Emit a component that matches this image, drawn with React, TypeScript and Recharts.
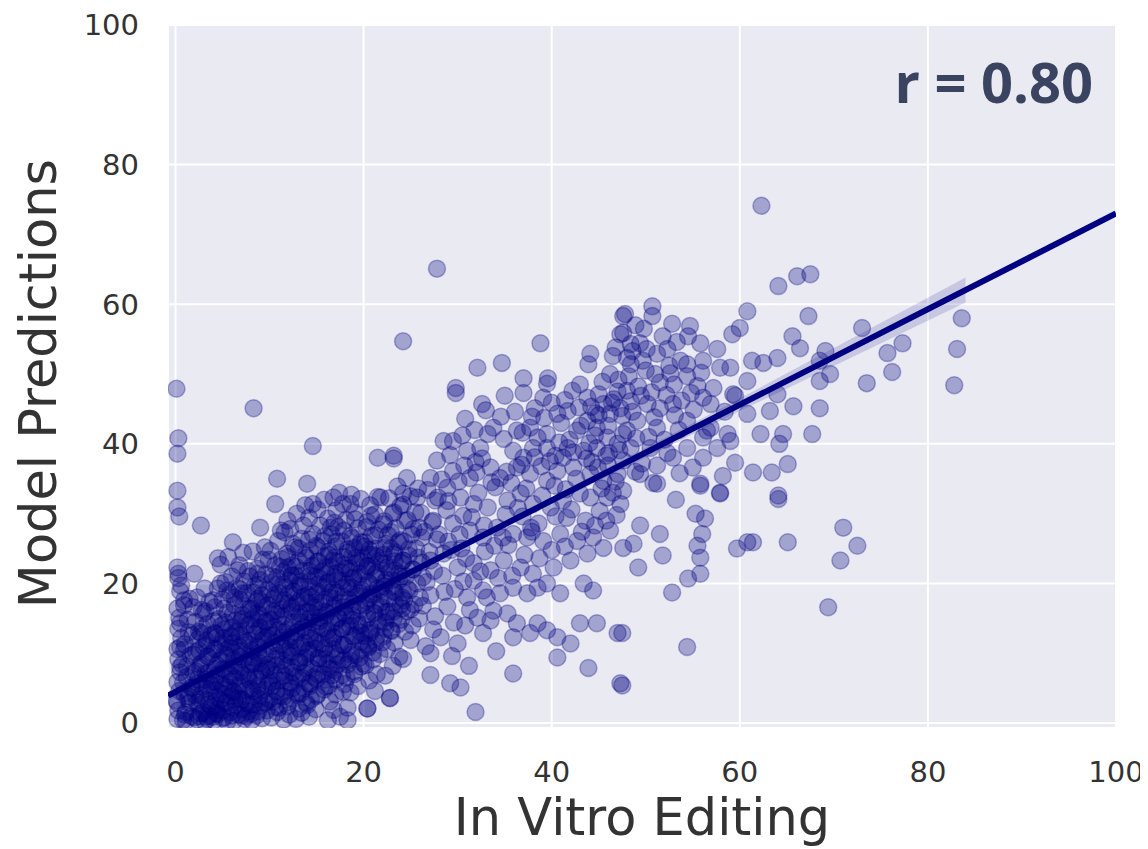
import {
  Area,
  CartesianGrid,
  ComposedChart,
  Label,
  Line,
  Scatter,
  XAxis,
  YAxis,
} from "recharts";

const NAVY = "#000080";

const xTicks = [0, 20, 40, 60, 80, 100];
const yTicks = [0, 20, 40, 60, 80, 100];

// guides at x = 0
const edgeColumn = [
  [0.2, 0.6], [0.3, 1.8], [0.1, 3.2], [0.4, 4.6], [0.2, 5.9], [0.5, 7.3], [0.3, 9.1],
  [0.2, 10.6], [0.6, 12.2], [0.3, 13.5], [0.4, 15.1], [0.2, 16.4], [0.5, 18.9], [0.3, 20.8],
  [0.2, 22.3], [0.3, 21.4], [0.4, 29.6], [0.2, 30.9], [0.2, 33.3], [0.2, 38.6], [0.3, 40.8],
  [0.1, 47.9], [0.5, 8.0], [0.5, 10.9], [0.5, 14.3], [0.2, 2.9],
];

const lowCluster = [
  [0.8, 0.4], [1.1, 1.6], [1.5, 2.9], [0.9, 4.2], [1.7, 5.1], [1.2, 6.6], [0.7, 8.4], [1.6, 9.7],
  [1.0, 11.3], [1.8, 12.6], [1.3, 14.8], [0.9, 16.9], [1.7, 1.0], [1.4, 3.8], [1.9, 7.2],
  [1.1, 0.3], [1.5, 17.8], [0.6, 19.7], [0.9, 17.6], [1.9, 16.6], [3.0, 15.7], [2.7, 12.9],
  [2.3, 0.5], [2.7, 1.4], [3.1, 0.2], [3.6, 1.1], [2.5, 2.6], [3.3, 3.3], [2.1, 4.0], [2.9, 5.2],
  [3.7, 4.6], [2.4, 6.3], [3.2, 7.1], [3.9, 6.0], [2.6, 8.4], [3.5, 9.5], [2.2, 10.2], [3.0, 11.0],
  [3.8, 12.6], [2.5, 13.1], [3.4, 14.2], [2.8, 16.2], [3.6, 17.4], [2.3, 18.0], [3.1, 19.3],
  [2.0, 21.4], [3.3, 0.9], [3.8, 2.3],
  [4.1, 0.4], [4.5, 1.3], [5.0, 0.7], [5.5, 0.2], [5.8, 1.6], [4.3, 2.4], [4.8, 3.3], [5.3, 2.8],
  [5.9, 3.9], [4.2, 4.8], [4.9, 5.6], [5.6, 5.1], [4.4, 6.9], [5.1, 7.8], [5.8, 6.8], [4.6, 8.9],
  [5.4, 9.7], [4.1, 10.6], [4.9, 11.4], [5.7, 10.8], [4.3, 12.8], [5.2, 13.4], [5.9, 12.5],
  [4.6, 14.9], [5.5, 15.8], [4.2, 16.6], [5.0, 17.7], [5.8, 18.5], [4.5, 19.3], [5.3, 20.2],
  [4.8, 22.7], [5.6, 23.8], [4.4, 1.9], [5.2, 4.1], [4.0, 17.6], [5.5, 19.0], [7.2, 18.6],
  [6.2, 0.3], [6.7, 1.2], [7.3, 0.6], [7.8, 1.7], [6.4, 2.6], [7.0, 3.4], [7.6, 2.9], [6.1, 4.5],
  [6.8, 5.3], [7.5, 4.7], [6.3, 6.4], [6.9, 7.3], [7.7, 6.6], [6.5, 8.2], [7.2, 9.1], [7.9, 8.4],
  [6.2, 10.1], [6.8, 10.9], [7.4, 11.6], [6.0, 12.3], [6.7, 13.2], [7.5, 13.9], [6.4, 14.7],
  [7.1, 15.5], [7.8, 16.3], [6.3, 16.9], [6.9, 17.7], [7.6, 18.6], [6.5, 19.4], [7.3, 20.3],
  [6.0, 21.0], [7.7, 21.8], [6.8, 22.6], [7.2, 24.4], [6.1, 25.9], [7.5, 1.0], [6.6, 3.6],
  [8.1, 0.4], [8.6, 1.1], [9.2, 0.7], [9.7, 1.8], [8.3, 2.7], [8.9, 3.5], [9.5, 2.9], [8.2, 4.6],
  [8.8, 5.4], [9.4, 4.8], [9.9, 5.9], [8.5, 6.6], [9.1, 7.4], [9.7, 7.9], [8.3, 8.5], [8.9, 9.3],
  [9.5, 9.8], [8.1, 10.4], [8.7, 11.2], [9.3, 11.9], [9.9, 12.6], [8.4, 12.8], [9.0, 13.7],
  [9.6, 14.5], [8.2, 14.9], [8.8, 15.8], [9.4, 16.6], [8.6, 17.4], [9.2, 18.3], [9.8, 19.1],
  [8.4, 19.6], [9.0, 20.5], [9.6, 21.3], [8.7, 22.1], [9.3, 23.4], [8.2, 24.6], [9.5, 25.2],
];

const coreCluster = [
  [10.2, 0.8], [10.8, 1.6], [11.5, 0.5], [11.9, 2.4], [10.4, 3.1], [11.1, 3.9], [11.7, 4.6],
  [10.3, 5.3], [10.9, 6.1], [11.6, 6.8], [10.1, 7.6], [10.7, 8.3], [11.4, 9.0], [11.9, 9.8],
  [10.5, 10.4], [11.2, 11.2], [11.8, 11.9], [10.3, 12.5], [10.9, 13.3], [11.5, 14.1], [10.1, 14.8],
  [10.7, 15.6], [11.3, 16.3], [11.9, 17.1], [10.4, 17.8], [11.0, 18.6], [11.7, 19.4], [10.2, 20.1],
  [10.8, 20.9], [11.5, 21.7], [10.6, 22.6], [11.3, 23.5], [11.9, 24.3], [10.9, 26.1], [11.6, 27.3],
  [12.1, 1.2], [12.8, 0.6], [13.4, 1.5], [13.9, 2.9], [12.3, 3.6], [13.0, 4.3], [13.7, 5.0],
  [12.2, 5.8], [12.9, 6.5], [13.6, 7.2], [12.4, 8.0], [13.1, 8.7], [13.8, 9.4], [12.3, 10.1],
  [13.0, 10.8], [13.7, 11.5], [12.2, 12.3], [12.9, 13.0], [13.6, 13.7], [12.5, 14.5], [13.2, 15.2],
  [13.9, 15.9], [12.3, 16.7], [13.0, 17.4], [13.7, 18.1], [12.6, 18.9], [13.3, 19.6], [12.1, 20.4],
  [12.8, 21.1], [13.5, 21.8], [12.4, 22.6], [13.1, 23.3], [13.8, 24.0], [12.7, 25.2], [13.4, 26.4],
  [12.2, 27.8], [13.6, 28.3], [12.9, 30.0], [13.8, 31.2], [13.1, 2.1],
  [14.2, 0.9], [14.9, 2.0], [14.4, 3.4], [15.1, 4.1], [15.8, 4.8], [14.3, 5.6], [15.0, 6.3],
  [15.7, 7.0], [14.5, 7.8], [15.2, 8.5], [15.9, 9.2], [14.1, 10.0], [14.8, 10.7], [15.5, 11.4],
  [14.3, 12.2], [15.0, 12.9], [15.7, 13.6], [14.6, 14.4], [15.3, 15.1], [14.1, 15.9], [14.8, 16.6],
  [15.5, 17.3], [14.4, 18.1], [15.1, 18.8], [15.8, 19.5], [14.2, 20.3], [14.9, 21.0], [15.6, 21.7],
  [14.5, 22.5], [15.2, 23.2], [15.9, 23.9], [14.3, 24.7], [15.0, 25.4], [15.7, 26.1], [14.6, 27.1],
  [15.4, 28.3], [14.2, 29.4], [15.1, 30.6], [15.8, 32.0],
  [16.2, 0.4], [17.5, 0.9], [16.4, 3.1], [17.8, 4.5], [16.3, 5.4], [17.0, 6.2], [17.7, 6.9],
  [16.5, 7.7], [17.2, 8.4], [17.9, 9.1], [16.1, 9.9], [16.8, 10.6], [17.5, 11.3], [16.3, 12.1],
  [17.0, 12.8], [17.7, 13.5], [16.6, 14.3], [17.3, 15.0], [16.1, 15.8], [16.8, 16.5], [17.5, 17.2],
  [16.4, 18.0], [17.1, 18.7], [17.8, 19.4], [16.2, 20.2], [16.9, 20.9], [17.6, 21.6], [16.5, 22.4],
  [17.2, 23.1], [17.9, 23.8], [16.3, 24.6], [17.0, 25.3], [17.7, 26.0], [16.6, 27.0], [17.3, 28.1],
  [16.2, 29.3], [17.1, 30.5], [17.8, 31.4], [17.4, 33.0],
  [18.3, 2.2], [18.6, 4.4], [19.4, 5.3], [18.2, 6.5], [19.0, 7.4], [19.7, 8.1], [18.5, 9.0],
  [19.2, 9.8], [19.9, 10.6], [18.3, 11.5], [19.0, 12.3], [19.7, 13.0], [18.6, 13.9], [19.3, 14.6],
  [18.1, 15.4], [18.8, 16.2], [19.5, 16.9], [18.4, 17.7], [19.1, 18.4], [19.8, 19.1], [18.2, 19.9],
  [18.9, 20.7], [19.6, 21.4], [18.5, 22.2], [19.2, 22.9], [19.9, 23.6], [18.3, 24.4], [19.0, 25.1],
  [19.7, 25.9], [18.6, 26.8], [19.4, 27.9], [18.1, 29.1], [19.0, 30.2], [18.7, 32.7],
];

// second layer through the densest part of the cloud
const coreFill = [
  [1.0, 1.2], [1.3, 3.5], [0.8, 5.8], [1.2, 8.1], [0.9, 10.5], [1.4, 13.0],
  [2.0, 0.8], [2.3, 2.9], [1.8, 5.0], [2.2, 7.4], [1.9, 9.8], [2.4, 12.0], [2.1, 14.5],
  [3.0, 1.6], [2.7, 4.0], [3.2, 6.2], [2.8, 8.6], [3.3, 11.2], [2.9, 13.6], [3.2, 16.0],
  [4.0, 0.9], [4.3, 3.1], [3.8, 5.4], [4.2, 7.7], [3.9, 10.0], [4.4, 12.3], [4.1, 14.6],
  [5.0, 1.8], [4.7, 4.3], [5.2, 6.5], [4.8, 9.0], [5.3, 11.5], [4.9, 14.0], [5.2, 16.4],
  [6.0, 1.1], [6.3, 3.4], [5.8, 5.9], [6.2, 8.3], [5.9, 10.7], [6.4, 13.1], [6.1, 15.6], [6.3, 18.0],
  [7.0, 2.0], [6.7, 4.5], [7.2, 6.9], [6.8, 9.5], [7.3, 11.9], [6.9, 14.4], [7.2, 16.8], [6.8, 19.2],
  [8.0, 1.3], [8.3, 3.8], [7.8, 6.2], [8.2, 8.8], [7.9, 11.3], [8.4, 13.8], [8.1, 16.2], [8.3, 18.7], [7.9, 21.0],
  [9.0, 2.5], [8.7, 5.0], [9.2, 7.5], [8.8, 10.0], [9.3, 12.4], [8.9, 14.9], [9.2, 17.3], [8.8, 19.8],
  [10.0, 3.4], [10.3, 5.9], [9.8, 8.4], [10.2, 11.0], [9.9, 13.5], [10.4, 16.0], [10.1, 18.5], [10.3, 21.0], [9.9, 23.4],
  [11.0, 2.2], [10.7, 4.7], [11.2, 7.2], [10.8, 9.7], [11.3, 12.3], [10.9, 14.8], [11.2, 17.4], [10.8, 19.9], [11.1, 22.4],
  [12.0, 3.0], [12.3, 5.6], [11.8, 8.2], [12.2, 10.8], [11.9, 13.4], [12.4, 16.0], [12.1, 18.6], [12.3, 21.2], [11.9, 23.8],
  [13.0, 4.0], [12.7, 6.7], [13.2, 9.3], [12.8, 11.9], [13.3, 14.5], [12.9, 17.1], [13.2, 19.8], [12.8, 22.4], [13.1, 25.0],
  [14.0, 2.6], [14.3, 5.3], [13.8, 7.9], [14.2, 10.5], [13.9, 13.2], [14.4, 15.8], [14.1, 18.4], [14.3, 21.1], [13.9, 23.7], [14.2, 26.3],
  [15.0, 3.9], [14.7, 6.6], [15.2, 9.3], [14.8, 11.9], [15.3, 14.6], [14.9, 17.3], [15.2, 19.9], [14.8, 22.6], [15.1, 25.2],
  [16.0, 5.2], [16.3, 7.9], [15.8, 10.6], [16.2, 13.3], [15.9, 16.0], [16.4, 18.7], [16.1, 21.4], [16.3, 24.1], [15.9, 26.8],
  [17.0, 4.1], [16.7, 6.9], [17.2, 9.6], [16.8, 12.3], [17.3, 15.1], [16.9, 17.8], [17.2, 20.5], [16.8, 23.3], [17.1, 26.0], [16.9, 28.7],
  [18.0, 5.6], [18.3, 8.4], [17.8, 11.1], [18.2, 13.9], [17.9, 16.6], [18.4, 19.4], [18.1, 22.1], [18.3, 24.9], [17.9, 27.6],
  [19.0, 7.0], [18.7, 9.8], [19.2, 12.6], [18.8, 15.4], [19.3, 18.2], [18.9, 20.9], [19.2, 23.7], [18.8, 26.5], [19.1, 29.2],
  [20.0, 8.5], [20.3, 11.3], [19.8, 14.1], [20.2, 16.9], [19.9, 19.7], [20.4, 22.5], [20.1, 25.3], [20.3, 28.1],
  [21.0, 10.1], [20.7, 12.9], [21.2, 15.7], [20.8, 18.5], [21.3, 21.3], [20.9, 24.1], [21.2, 26.9], [20.8, 29.7],
  [22.0, 11.6], [22.3, 14.4], [21.8, 17.3], [22.2, 20.1], [21.9, 22.9], [22.4, 25.7], [22.1, 28.5],
  [23.0, 13.2], [22.7, 16.0], [23.2, 18.9], [22.8, 21.7], [23.3, 24.5], [22.9, 27.4], [23.2, 30.2],
  [24.0, 14.8], [24.3, 17.6], [23.8, 20.5], [24.2, 23.3], [23.9, 26.2], [24.4, 29.0],
  [25.0, 16.3], [24.7, 19.2], [25.2, 22.0], [24.8, 24.9], [25.3, 27.8],
  [26.0, 18.0], [26.3, 20.9], [25.8, 23.7], [26.2, 26.6],
];

// third layer hugging the fitted line where the cloud is darkest
const coreDense = [
  [2.5, 1.0], [2.6, 3.4], [2.4, 5.7], [2.6, 8.0], [2.5, 10.4],
  [3.4, 0.6], [3.5, 2.7], [3.3, 4.9], [3.5, 7.2], [3.4, 9.6], [3.3, 11.8],
  [4.3, 1.4], [4.4, 3.7], [4.2, 5.9], [4.4, 8.3], [4.3, 10.6], [4.2, 12.9],
  [5.2, 0.8], [5.3, 3.0], [5.1, 5.3], [5.3, 7.6], [5.2, 9.9], [5.1, 12.2], [5.3, 14.4],
  [6.1, 2.2], [6.2, 4.5], [6.0, 6.8], [6.2, 9.1], [6.1, 11.4], [6.0, 13.7],
  [7.0, 1.1], [7.1, 3.4], [6.9, 5.7], [7.1, 8.0], [7.0, 10.3], [6.9, 12.6], [7.1, 14.9],
  [7.9, 2.6], [8.0, 4.9], [7.8, 7.2], [8.0, 9.5], [7.9, 11.8], [7.8, 14.1], [8.0, 16.4],
  [8.8, 1.7], [8.9, 4.0], [8.7, 6.3], [8.9, 8.6], [8.8, 10.9], [8.7, 13.2], [8.9, 15.5], [8.8, 17.8],
  [9.7, 3.1], [9.8, 5.4], [9.6, 7.7], [9.8, 10.0], [9.7, 12.3], [9.6, 14.6], [9.8, 16.9],
  [10.6, 2.3], [10.7, 4.6], [10.5, 6.9], [10.7, 9.2], [10.6, 11.5], [10.5, 13.8], [10.7, 16.1], [10.6, 18.4],
  [11.5, 3.8], [11.6, 6.1], [11.4, 8.4], [11.6, 10.7], [11.5, 13.0], [11.4, 15.3], [11.6, 17.6], [11.5, 19.9],
  [12.4, 5.0], [12.5, 7.3], [12.3, 9.6], [12.5, 11.9], [12.4, 14.2], [12.3, 16.5], [12.5, 18.8], [12.4, 21.1],
  [13.3, 4.2], [13.4, 6.5], [13.2, 8.8], [13.4, 11.1], [13.3, 13.4], [13.2, 15.7], [13.4, 18.0], [13.3, 20.3],
  [14.2, 5.7], [14.3, 8.0], [14.1, 10.3], [14.3, 12.6], [14.2, 14.9], [14.1, 17.2], [14.3, 19.5], [14.2, 21.8],
  [15.1, 7.0], [15.2, 9.3], [15.0, 11.6], [15.2, 13.9], [15.1, 16.2], [15.0, 18.5], [15.2, 20.8], [15.1, 23.1],
  [16.0, 6.2], [16.1, 8.5], [15.9, 10.8], [16.1, 13.1], [16.0, 15.4], [15.9, 17.7], [16.1, 20.0], [16.0, 22.3],
  [16.9, 7.6], [17.0, 9.9], [16.8, 12.2], [17.0, 14.5], [16.9, 16.8], [16.8, 19.1], [17.0, 21.4], [16.9, 23.7],
  [17.8, 8.9], [17.9, 11.2], [17.7, 13.5], [17.9, 15.8], [17.8, 18.1], [17.7, 20.4], [17.9, 22.7],
  [18.7, 10.2], [18.8, 12.5], [18.6, 14.8], [18.8, 17.1], [18.7, 19.4], [18.6, 21.7], [18.8, 24.0],
  [19.6, 9.4], [19.7, 11.7], [19.5, 14.0], [19.7, 16.3], [19.6, 18.6], [19.5, 20.9], [19.7, 23.2], [19.6, 25.5],
  [20.5, 11.0], [20.6, 13.3], [20.4, 15.6], [20.6, 17.9], [20.5, 20.2], [20.4, 22.5], [20.6, 24.8],
  [21.4, 12.4], [21.5, 14.7], [21.3, 17.0], [21.5, 19.3], [21.4, 21.6], [21.3, 23.9],
  [22.3, 13.6], [22.4, 15.9], [22.2, 18.2], [22.4, 20.5], [22.3, 22.8], [22.2, 25.1],
  [23.2, 15.0], [23.3, 17.3], [23.1, 19.6], [23.3, 21.9], [23.2, 24.2],
  [24.1, 16.4], [24.2, 18.7], [24.0, 21.0], [24.2, 23.3],
];

const bandCluster = [
  [20.4, 2.1], [21.2, 4.6], [20.6, 6.1], [21.4, 7.0], [20.2, 8.3], [21.0, 9.1], [21.7, 9.9],
  [20.5, 10.8], [21.3, 11.6], [20.1, 12.5], [20.8, 13.3], [21.6, 14.1], [20.4, 15.0], [21.1, 15.8],
  [21.9, 16.6], [20.3, 17.5], [21.0, 18.3], [21.8, 19.1], [20.6, 20.0], [21.4, 20.8], [20.2, 21.7],
  [20.9, 22.5], [21.7, 23.3], [20.5, 24.2], [21.3, 25.0], [20.1, 25.9], [20.8, 26.8], [21.6, 27.7],
  [20.4, 28.8], [21.2, 29.9], [20.7, 31.2], [21.5, 32.4],
  [22.8, 3.6], [22.3, 6.8], [23.1, 8.2], [23.8, 9.5], [22.5, 10.6], [23.3, 11.5], [22.1, 12.4],
  [22.9, 13.3], [23.7, 14.2], [22.4, 15.1], [23.2, 16.0], [23.9, 16.9], [22.6, 17.8], [23.4, 18.7],
  [22.2, 19.6], [23.0, 20.5], [23.8, 21.4], [22.5, 22.3], [23.3, 23.2], [22.1, 24.1], [22.9, 25.0],
  [23.7, 25.9], [22.6, 26.9], [23.4, 27.9], [22.2, 28.9], [23.1, 30.0], [23.9, 31.1], [22.7, 32.2],
  [23.6, 33.9],
  [24.2, 9.2], [25.0, 11.9], [24.4, 13.1], [25.2, 14.0], [25.9, 15.0], [24.6, 16.0], [25.4, 17.0],
  [24.1, 18.0], [24.9, 19.0], [25.7, 20.0], [24.5, 21.0], [25.3, 22.0], [24.0, 23.0], [24.8, 24.0],
  [25.6, 25.0], [24.3, 26.0], [25.1, 27.0], [25.9, 28.0], [24.7, 29.1], [25.5, 30.2], [24.2, 31.3],
  [25.0, 32.5], [25.8, 33.6], [24.6, 35.1],
  [26.3, 16.8], [27.1, 18.3], [26.7, 20.2], [27.5, 21.8], [26.2, 23.0], [27.0, 24.5], [27.8, 26.3],
  [26.5, 27.4], [27.3, 28.8], [26.1, 30.1], [27.6, 31.9], [26.8, 33.4], [27.4, 13.4], [26.6, 11.0],
];

const sparseLow = [
  [10.8, 35.0], [14.0, 34.3], [10.6, 31.4], [14.6, 31.4], [2.7, 28.3], [9.0, 28.0], [11.9, 29.0],
  [11.2, 27.6], [16.8, 32.3], [18.6, 31.4], [19.7, 32.1], [21.8, 32.3], [16.5, 28.0], [10.1, 24.7],
  [4.5, 23.6], [6.6, 21.9], [8.7, 21.4], [12.5, 25.7], [11.9, 22.3], [4.8, 20.0], [14.6, 39.7],
  [21.5, 38.0], [23.2, 37.9], [8.3, 45.1], [20.4, 2.1], [22.8, 3.6], [18.3, 0.4], [16.8, 1.9],
];

const midCloud = [
  [29.8, 47.3], [32.6, 45.7], [37.0, 47.3], [39.1, 46.6], [39.5, 48.6], [42.2, 47.6], [43.8, 46.6],
  [45.5, 45.7], [47.3, 45.1], [48.0, 47.6], [41.7, 44.7], [40.6, 44.3], [37.7, 42.3], [36.3, 41.9],
  [38.5, 40.9], [39.5, 41.4], [42.7, 41.9], [43.8, 43.3], [44.8, 42.3], [46.2, 44.3], [47.6, 41.4],
  [45.9, 40.9], [44.8, 39.4], [43.4, 39.0], [41.7, 39.4], [41.2, 38.0], [39.5, 39.4], [38.0, 39.4],
  [37.0, 38.0], [35.9, 39.0], [33.8, 42.3], [33.2, 41.4], [32.4, 39.4], [31.0, 39.0], [29.5, 40.4],
  [28.5, 40.4], [27.8, 37.6], [29.5, 36.1], [31.3, 35.1], [33.5, 36.6], [34.5, 35.1], [36.3, 36.6],
  [37.7, 35.7], [39.5, 34.7], [40.6, 36.1], [42.3, 36.6], [44.1, 35.7], [45.5, 34.7], [47.0, 35.7],
  [47.6, 33.3], [45.9, 32.3], [44.1, 32.3], [43.0, 32.9], [41.2, 31.9], [39.9, 30.9], [38.0, 31.4],
  [36.7, 32.9], [35.3, 31.9], [33.2, 30.9], [31.7, 31.4], [30.3, 32.3], [28.9, 33.7], [27.1, 35.1],
  [25.7, 32.3], [24.2, 32.9], [23.2, 38.3], [27.4, 29.0], [29.5, 28.6], [31.3, 27.6], [32.7, 26.6],
  [34.2, 28.0], [35.9, 27.1], [37.4, 26.6], [39.1, 26.1], [40.9, 27.1], [42.7, 26.1], [44.4, 26.6],
  [46.2, 27.6], [47.6, 25.1], [45.5, 25.1], [43.8, 24.3], [42.0, 23.3], [40.2, 22.3], [38.0, 21.4],
  [36.7, 22.3], [34.9, 23.3], [33.5, 21.9], [31.7, 22.9], [30.0, 22.3], [28.5, 24.3], [27.1, 23.3],
  [31.7, 20.4], [32.7, 19.0], [31.0, 18.0], [34.5, 18.6], [35.9, 19.4], [37.4, 18.6], [38.5, 19.4],
  [39.5, 20.0], [40.9, 18.6], [43.4, 20.0], [44.4, 19.0], [33.8, 16.1], [32.1, 15.1], [33.5, 14.7],
  [35.3, 15.7], [36.3, 14.3], [38.5, 14.3], [39.5, 13.3], [37.7, 12.9], [35.9, 12.3], [32.7, 12.9],
  [40.6, 12.3], [42.0, 11.4], [43.0, 14.3], [44.8, 14.3], [47.0, 12.9], [40.6, 9.4], [30.0, 11.4],
  [28.2, 12.3], [27.1, 10.0],
  [32.1, 50.9], [34.7, 51.6], [38.8, 54.4], [37.0, 49.4], [39.6, 49.4], [44.1, 52.9], [43.9, 51.4],
  [47.6, 58.3], [47.3, 55.7], [46.5, 52.6], [48.0, 52.3], [29.8, 48.0],
  [28.8, 30.5], [30.6, 29.7], [32.2, 33.0], [34.0, 33.8], [35.7, 34.4], [37.3, 33.6], [38.9, 36.8],
  [40.4, 38.3], [41.9, 40.6], [43.1, 42.6], [44.7, 44.4], [46.6, 46.4], [42.9, 45.2], [41.0, 43.0],
  [39.2, 43.7], [38.2, 45.1], [36.1, 44.6], [34.6, 43.9], [33.0, 44.8], [35.0, 46.9], [30.8, 43.6],
  [31.9, 37.4], [30.1, 34.6], [28.0, 27.0], [29.0, 26.0], [30.4, 25.0], [32.9, 24.6], [35.4, 25.5],
  [36.9, 29.6], [38.6, 28.6], [41.6, 29.4], [43.6, 29.0], [45.1, 30.4], [46.9, 29.8], [28.4, 21.1],
  [29.7, 19.2], [28.9, 16.7], [30.8, 14.0], [27.6, 15.3], [29.4, 9.6], [31.2, 8.2], [34.1, 10.3],
  [29.0, 31.8], [30.2, 27.0], [31.5, 29.5], [32.8, 28.3], [33.9, 25.4], [35.1, 29.9], [36.4, 30.8],
  [37.8, 28.0], [39.0, 32.6], [40.3, 34.0], [41.5, 33.5], [42.6, 35.0], [43.7, 37.9], [44.9, 36.6],
  [46.1, 38.7], [47.2, 39.1], [46.0, 36.9], [44.0, 40.1], [42.3, 38.8], [40.8, 40.2], [39.8, 37.5],
  [38.2, 38.1], [36.8, 37.0], [35.2, 36.0], [33.6, 34.5], [32.0, 35.9], [30.7, 36.9], [29.2, 38.4],
  [28.3, 34.9], [27.9, 32.3], [29.3, 24.8], [30.9, 23.6], [32.4, 21.7], [34.3, 20.8], [35.8, 21.1],
  [37.1, 24.1], [38.7, 23.6], [40.0, 24.8], [41.4, 25.3], [43.2, 27.4], [44.6, 28.3], [45.8, 29.0],
  [47.3, 31.4], [46.5, 33.0], [42.1, 30.6], [40.4, 29.6], [37.9, 27.4], [34.8, 26.6], [33.1, 18.0],
  [31.3, 16.2], [29.6, 14.4], [30.6, 20.3], [28.6, 18.8], [36.9, 41.6], [37.9, 43.9], [40.0, 45.9],
  [41.4, 46.3], [43.0, 48.5], [45.0, 47.1], [34.9, 40.7], [32.6, 37.9], [31.8, 42.0], [30.5, 41.2],
];

const upperCloud = [
  [64.1, 62.6], [66.1, 64.0], [67.5, 64.3], [50.7, 59.7], [50.7, 58.3], [47.8, 58.6], [67.3, 58.3],
  [60.8, 59.0], [60.0, 56.6], [59.2, 55.7], [54.7, 56.9], [54.5, 55.4], [51.8, 55.4], [65.6, 55.4],
  [66.4, 53.7], [57.6, 53.6], [55.8, 54.4], [69.1, 53.3], [68.5, 51.9], [69.6, 50.0], [68.5, 49.0],
  [64.0, 52.3], [62.5, 51.6], [61.3, 51.9], [59.0, 50.9], [57.9, 50.9], [60.8, 49.0], [56.1, 51.9],
  [54.4, 51.4], [53.7, 51.9], [52.3, 53.6], [51.2, 52.9], [49.4, 54.4], [48.6, 53.3], [49.7, 51.9],
  [48.4, 51.4], [52.6, 50.1], [54.4, 49.7], [56.1, 46.6], [56.9, 45.7], [59.3, 47.1], [60.8, 44.3],
  [63.2, 44.7], [65.7, 45.4], [64.0, 47.1], [62.2, 41.4], [64.6, 41.4], [65.1, 37.1], [63.4, 35.9],
  [61.4, 35.9], [59.5, 37.3], [58.2, 35.4], [55.8, 34.3], [51.2, 36.9], [52.9, 38.0], [51.2, 34.3],
  [49.4, 35.7], [54.4, 39.4], [56.1, 40.9], [56.9, 42.3], [58.7, 41.4], [54.4, 43.3], [52.9, 45.7],
  [51.5, 45.1], [50.2, 45.7], [48.4, 46.1], [49.1, 43.3], [51.2, 42.3], [48.0, 41.9], [48.4, 39.4],
  [50.5, 39.4], [52.3, 38.7], [56.1, 38.0], [57.6, 39.4], [56.5, 41.9], [59.0, 40.4], [47.6, 37.6],
  [48.4, 54.3], [47.6, 55.9], [59.5, 46.9], [64.1, 32.6], [57.9, 33.0], [50.8, 34.4], [68.5, 45.1],
  [67.7, 41.4], [64.2, 40.0],
  [50.0, 50.5], [51.5, 48.8], [49.2, 48.2], [53.0, 48.5], [52.2, 47.0], [50.6, 47.4], [53.8, 46.2],
  [49.8, 56.5], [52.8, 57.2], [48.9, 57.0], [46.8, 53.8], [46.2, 50.0], [45.4, 48.9], [47.1, 49.2],
  [46.4, 45.9], [45.0, 44.1], [44.2, 45.3], [47.5, 44.0], [46.0, 42.6], [44.6, 41.2], [55.5, 48.3],
  [57.2, 48.0], [58.4, 44.6], [55.1, 44.9], [53.5, 42.0], [52.0, 40.6], [50.3, 41.0], [47.0, 40.0],
  [45.8, 38.3], [44.3, 37.4], [49.6, 37.2], [53.6, 35.8], [55.0, 36.6], [46.8, 34.6], [45.3, 33.6],
  [53.2, 32.0],
  [49.5, 46.9], [51.0, 50.0], [52.5, 51.2], [50.1, 53.6], [53.3, 54.6], [48.2, 49.7], [47.0, 47.5],
  [54.8, 47.3], [55.9, 50.2], [53.1, 44.1], [50.9, 43.8], [49.0, 40.8], [48.6, 44.6], [48.9, 36.0],
  [55.8, 34.0], [57.9, 32.9], [64.1, 32.1], [55.3, 30.0], [56.3, 29.3], [56.0, 27.1], [55.5, 25.4],
  [55.8, 23.7], [55.8, 21.4], [54.5, 20.7], [52.8, 18.7], [48.7, 25.7], [51.5, 27.1], [51.8, 24.0],
  [49.2, 22.3], [49.4, 28.3], [59.7, 25.0], [60.8, 25.9], [61.4, 25.9], [65.1, 25.9],
];

const outliers = [
  [62.3, 74.1], [27.8, 65.1], [24.2, 54.7], [83.6, 58.0], [83.1, 53.6], [82.8, 48.4], [77.3, 54.4],
  [75.7, 53.0], [76.2, 50.3], [73.5, 48.7], [73.0, 56.6], [72.5, 25.4], [71.0, 28.0], [70.7, 23.3],
  [69.4, 16.6], [54.4, 10.9], [47.5, 12.9], [47.5, 5.4], [43.9, 7.9], [35.9, 7.1], [31.9, 1.6],
  [29.2, 5.7], [30.3, 5.1], [27.1, 6.9], [47.3, 5.7],
];

const points = [
  ...edgeColumn, ...lowCluster, ...coreCluster, ...coreFill, ...coreDense, ...bandCluster,
  ...sparseLow, ...midCloud, ...upperCloud, ...outliers,
].map(([x, y]) => ({ x, y }));

// least-squares fit and its confidence band half-widths
const fitIntercept = 4.5;
const fitSlope = 0.685;
const xDomain: [number, number] = [-0.8, 100];
const ciX = [0, 20, 40, 60, 70, 84];
const ciHalf = [0.8, 0.5, 0.5, 0.9, 1.3, 1.8];

const fitAt = (x: number) => fitIntercept + fitSlope * x;
const fitLine = xDomain.map((x) => ({ x, y: fitAt(x) }));
const ciBand = ciX.map((x, i) => ({ x, band: [fitAt(x) - ciHalf[i], fitAt(x) + ciHalf[i]] }));

const Dot = (props: any) => (
  <circle
    cx={props.cx}
    cy={props.cy}
    r={8.5}
    fill={NAVY}
    fillOpacity={0.3}
    stroke={NAVY}
    strokeOpacity={0.3}
    strokeWidth={1.5}
  />
);

const tickStyle = { fill: "#333", fontSize: 29, fontFamily: "DejaVu Sans" };
const labelStyle = { fill: "#333", fontSize: 51, fontFamily: "DejaVu Sans", textAnchor: "middle" as const };

export default function App() {
  return (
    <div style={{ position: "relative", width: 1140, height: 841 }}>
      <ComposedChart
        width={1140}
        height={841}
        data={ciBand}
        margin={{ top: 17, right: 32, bottom: 0, left: 0 }}
      >
        <CartesianGrid fill="#EAEAF2" stroke="#ffffff" strokeWidth={2} />
        <XAxis
          dataKey="x"
          type="number"
          domain={xDomain}
          ticks={xTicks}
          allowDataOverflow
          axisLine={false}
          tickLine={false}
          tickSize={0}
          tickMargin={33}
          height={121}
          tick={tickStyle}
        >
          <Label value="In Vitro Editing" position="insideBottom" offset={14} style={labelStyle} />
        </XAxis>
        <YAxis
          type="number"
          domain={[-0.7, 100]}
          ticks={yTicks}
          allowDataOverflow
          axisLine={false}
          tickLine={false}
          tickSize={0}
          tickMargin={29}
          width={160}
          tick={tickStyle}
        >
          <Label
            value="Model Predictions"
            position="insideLeft"
            angle={-90}
            offset={30}
            dy={7}
            style={labelStyle}
          />
        </YAxis>
        <Scatter data={points} dataKey="y" shape={Dot} isAnimationActive={false} />
        <Area
          dataKey="band"
          stroke="none"
          fill={NAVY}
          fillOpacity={0.15}
          isAnimationActive={false}
        />
        <Line
          data={fitLine}
          dataKey="y"
          stroke={NAVY}
          strokeWidth={6}
          dot={false}
          activeDot={false}
          isAnimationActive={false}
        />
      </ComposedChart>
      <div
        style={{
          position: "absolute",
          right: 55,
          top: 45,
          fontFamily: "'Open Sans'",
          fontWeight: 700,
          fontSize: 56,
          lineHeight: 1,
          color: "#3a4460",
        }}
      >
        r = 0.80
      </div>
    </div>
  );
}
